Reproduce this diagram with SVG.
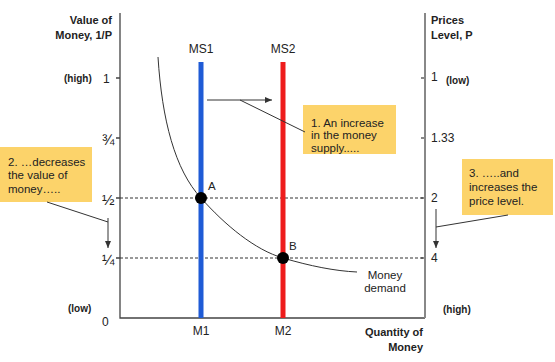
<svg xmlns="http://www.w3.org/2000/svg" width="555" height="362" viewBox="0 0 555 362">
<defs>
<style>
text{font-family:"Liberation Sans",Arial,sans-serif;fill:#222}
.b{font-weight:bold;font-size:11px}
.n{font-size:12px}
.f{font-size:15px}
.s{font-size:10px;font-weight:bold}
.c{font-size:11.5px}
.axl{stroke:#444;stroke-width:1.3;fill:none}
.axr{stroke:#888;stroke-width:2;fill:none}
.dash{stroke:#333;stroke-width:1;stroke-dasharray:3,2;fill:none}
.ln{stroke:#333;stroke-width:1;fill:none}
.box{fill:#fcd36a}
</style>
<marker id="ah" markerWidth="8" markerHeight="8" refX="7" refY="3" orient="auto" markerUnits="userSpaceOnUse">
<path d="M0,0 L7,3 L0,6 Z" fill="#333"/>
</marker>
</defs>
<rect width="555" height="362" fill="#fff"/>
<g id="axes">
<path class="axl" d="M120,13 V318 H425 M116,78 H120 M116,138 H120 M116,198 H120 M116,258 H120"/>
<path class="axr" d="M425,13 V318 M421,78 H425 M421,138 H425 M421,198 H425 M421,258 H425"/>
<path class="dash" d="M120,198 H424 M120,258 H424"/>
</g>
<g id="axis-labels">
<text class="b" x="112" y="24" text-anchor="end">Value of</text>
<text class="b" x="112" y="39" text-anchor="end">Money, 1/P</text>
<text class="s" x="64" y="82">(high)</text>
<text class="n" x="103" y="83">1</text>
<text class="f" x="102" y="145">¾</text>
<text class="f" x="102" y="205">½</text>
<text class="f" x="102" y="265">¼</text>
<text class="s" x="68" y="312">(low)</text>
<text class="n" x="102" y="326">0</text>
<text class="b" x="431" y="24">Prices</text>
<text class="b" x="431" y="39">Level, P</text>
<text class="n" x="431" y="81">1</text>
<text class="s" x="446" y="84">(low)</text>
<text class="n" x="431" y="142">1.33</text>
<text class="n" x="431" y="202">2</text>
<text class="n" x="431" y="262">4</text>
<text class="s" x="443" y="313">(high)</text>
<text class="b" x="423" y="336" text-anchor="end">Quantity of</text>
<text class="b" x="423" y="351" text-anchor="end">Money</text>
</g>
<g id="demand">
<path class="ln" d="M158,57 C162,120 175,170 201,198 C225,225 255,250 283,258 C310,266 335,271 357,272"/>
<text class="c" x="385" y="279" text-anchor="middle">Money</text>
<text class="c" x="385" y="292" text-anchor="middle">demand</text>
</g>
<g id="ms1">
<line x1="201" y1="62" x2="201" y2="318" stroke="#1f5bd6" stroke-width="5"/>
<text class="n" x="201" y="53" text-anchor="middle">MS1</text>
<text class="n" x="201" y="335" text-anchor="middle">M1</text>
</g>
<g id="ms2">
<line x1="283" y1="62" x2="283" y2="318" stroke="#ee1c1c" stroke-width="5"/>
<text class="n" x="283" y="53" text-anchor="middle">MS2</text>
<text class="n" x="283" y="335" text-anchor="middle">M2</text>
</g>
<g id="pointA">
<circle cx="201" cy="198" r="6" fill="#000"/>
<text class="c" x="208" y="190">A</text>
</g>
<g id="pointB">
<circle cx="283" cy="258" r="6" fill="#000"/>
<text class="c" x="289" y="250">B</text>
</g>
<g id="note1">
<rect class="box" x="303" y="105" width="93" height="49"/>
<text class="c" x="311" y="127">1. An increase</text>
<text class="c" x="311" y="139">in the money</text>
<text class="c" x="311" y="152">supply.....</text>
</g>
<g id="note2">
<rect class="box" x="0" y="147" width="92" height="55"/>
<text class="c" x="8" y="166">2. …decreases</text>
<text class="c" x="8" y="179">the value of</text>
<text class="c" x="8" y="193">money…..</text>
</g>
<g id="note3">
<rect class="box" x="462" y="159" width="91" height="56"/>
<text class="c" x="469" y="177">3. …..and</text>
<text class="c" x="469" y="191">increases the</text>
<text class="c" x="469" y="205">price level.</text>
</g>
<g id="connectors">
<line class="ln" x1="207" y1="100" x2="272" y2="100" marker-end="url(#ah)"/>
<line class="ln" x1="240" y1="100" x2="305" y2="132"/>
<line class="ln" x1="108" y1="218" x2="108" y2="248" marker-end="url(#ah)"/>
<line class="ln" x1="47" y1="202" x2="108" y2="222"/>
<line class="ln" x1="436" y1="209" x2="436" y2="248" marker-end="url(#ah)"/>
<line class="ln" x1="508" y1="215" x2="436" y2="227"/>
</g>
</svg>
